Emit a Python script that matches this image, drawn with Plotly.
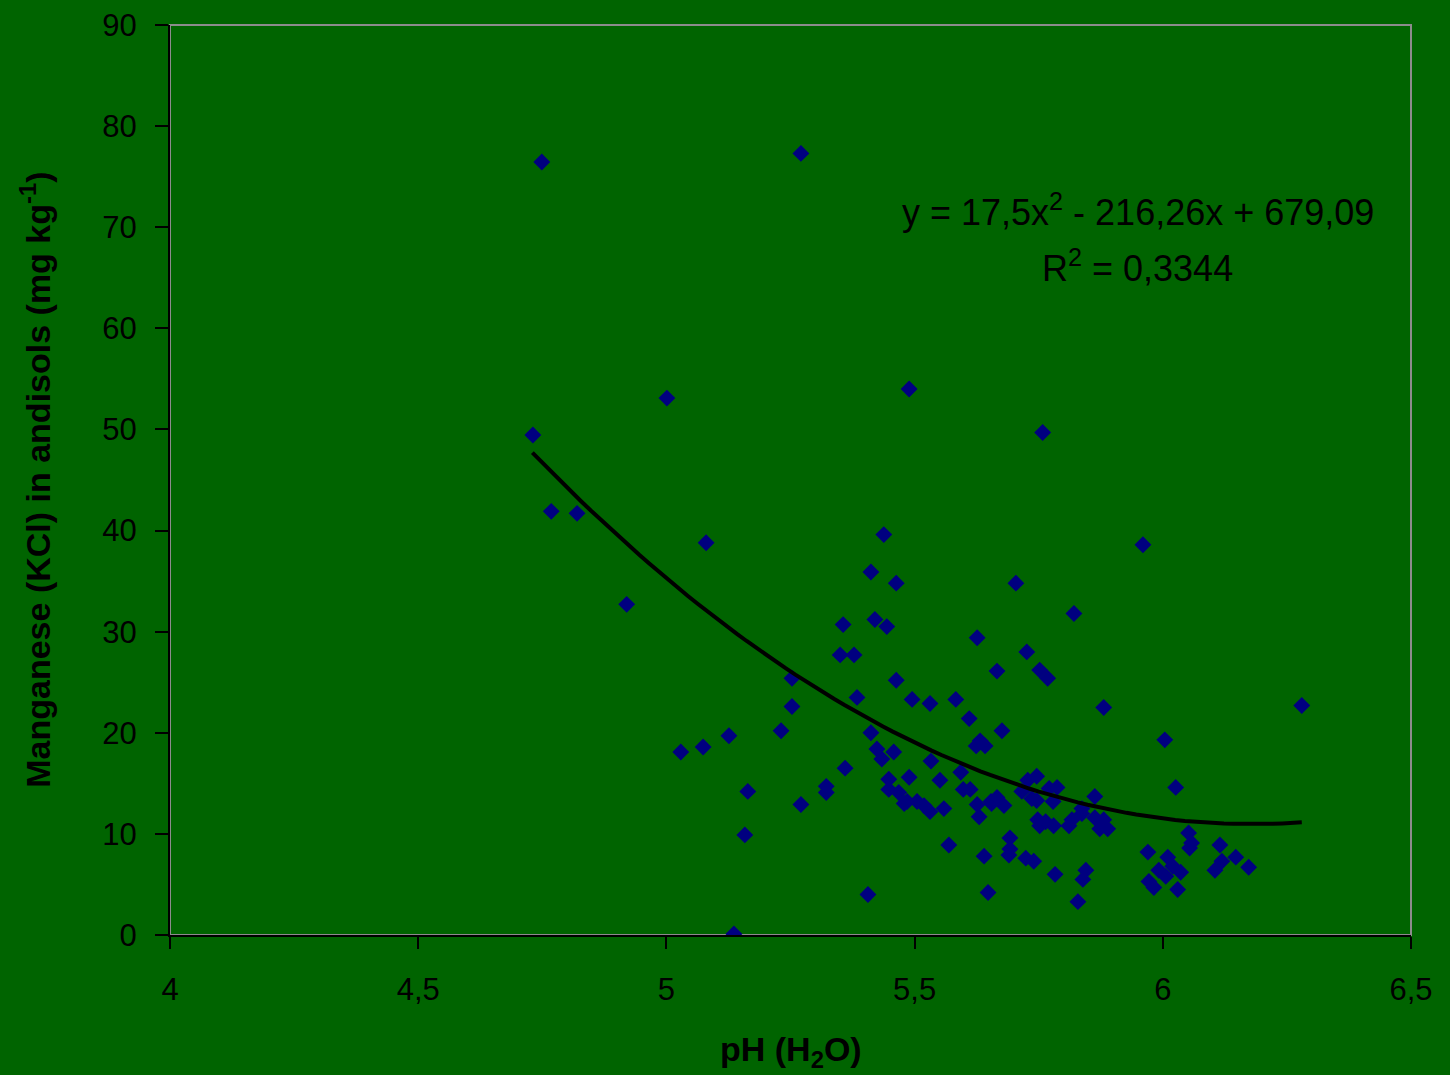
import numpy as np
import plotly.graph_objects as go

# pH (H2O) values and Mn (KCl) values
ph = [4.749, 4.731, 4.768, 4.820, 4.920, 5.001, 5.029, 5.074, 5.080, 5.126,
      5.136, 5.158, 5.164, 5.271, 5.253, 5.253, 5.231, 5.271, 5.322, 5.322,
      5.356, 5.350, 5.378, 5.360, 5.384, 5.412, 5.438, 5.420, 5.444, 5.463,
      5.489, 5.406, 5.412, 5.424, 5.434, 5.458, 5.463, 5.495, 5.531, 5.448,
      5.448, 5.468, 5.489, 5.485, 5.479, 5.505, 5.519, 5.531, 5.533, 5.551,
      5.559, 5.569, 5.583, 5.593, 5.598, 5.612, 5.610, 5.626, 5.624, 5.632,
      5.642, 5.626, 5.630, 5.640, 5.648, 5.654, 5.666, 5.666, 5.676, 5.680,
      5.704, 5.692, 5.692, 5.690, 5.726, 5.716, 5.728, 5.736, 5.746, 5.746,
      5.724, 5.740, 5.748, 5.752, 5.752, 5.768, 5.758, 5.764, 5.780, 5.771,
      5.779, 5.787, 5.783, 5.811, 5.817, 5.821, 5.829, 5.837, 5.845, 5.839,
      5.863, 5.863, 5.873, 5.881, 5.881, 5.889, 5.960, 5.970, 5.972, 5.982,
      5.992, 6.004, 6.010, 6.006, 6.020, 6.026, 6.030, 6.036, 6.052, 6.054,
      6.058, 6.105, 6.115, 6.119, 6.147, 6.173, 6.280, 5.837, 5.655]
mn = [76.45, 49.45, 41.9, 41.7, 32.7, 53.1, 18.1, 18.6, 38.8, 19.7,
      0.1, 9.9, 14.2, 77.3, 25.4, 22.6, 20.2, 12.9, 14.7, 14.1,
      30.7, 27.7, 27.7, 16.5, 23.5, 35.9, 39.6, 31.2, 30.5, 34.8,
      54.0, 4.0, 20.0, 18.4, 17.4, 18.1, 25.2, 23.3, 22.9, 15.4,
      14.4, 14.1, 15.6, 13.2, 13.0, 13.2, 12.8, 12.2, 17.2, 15.3,
      12.5, 8.9, 23.3, 16.1, 14.4, 14.4, 21.4, 29.4, 18.7, 19.2,
      18.7, 12.9, 11.7, 7.8, 4.2, 13.2, 13.6, 26.1, 20.2, 12.8,
      34.8, 9.6, 8.5, 7.9, 28.0, 14.2, 15.3, 13.5, 15.7, 13.3,
      7.6, 7.3, 11.4, 10.8, 26.2, 25.4, 49.7, 11.2, 10.8, 14.5,
      13.2, 14.6, 6.0, 10.8, 11.4, 31.8, 3.3, 12.5, 6.4, 5.5,
      13.7, 11.6, 10.5, 22.5, 11.4, 10.5, 38.6, 8.2, 5.3, 4.7,
      6.4, 19.3, 7.7, 5.8, 6.8, 14.6, 4.5, 6.2, 10.1, 8.6,
      9.1, 6.4, 8.9, 7.3, 7.7, 6.7, 22.7, 12.0, 13.0]

# Trend line coefficients (from the chart's equation)
coef_a, coef_b, coef_c = 17.5, -216.26, 679.09
trend_x_range = [4.73, 6.28]

x_ticks = [4, 4.5, 5, 5.5, 6, 6.5]
x_ticktext = ["4", "4,5", "5", "5,5", "6", "6,5"]
y_ticks = [0, 10, 20, 30, 40, 50, 60, 70, 80, 90]

tx = np.linspace(trend_x_range[0], trend_x_range[1], 80)
ty = coef_a * tx**2 + coef_b * tx + coef_c

BG = "#006400"
FONT = "Liberation Sans"

fig = go.Figure()
fig.add_trace(go.Scatter(x=ph, y=mn, mode="markers",
                         marker=dict(symbol="diamond", size=13, color="#000080",
                                     line=dict(width=0)),
                         showlegend=False))
fig.add_trace(go.Scatter(x=tx, y=ty, mode="lines",
                         line=dict(color="black", width=4),
                         showlegend=False))

fig.update_layout(
    width=1450, height=1075,
    margin=dict(l=170, r=39, t=25, b=140),
    paper_bgcolor=BG, plot_bgcolor=BG,
    font=dict(family=FONT, color="black", size=30),
    showlegend=False,
)
fig.update_xaxes(range=[4, 6.5], tickvals=x_ticks, ticktext=x_ticktext,
                 automargin=False,
                 showgrid=False, zeroline=False, showline=True,
                 linecolor="black", linewidth=2, ticks="outside",
                 ticklen=12, tickwidth=2, tickcolor="black",
                 ticklabelstandoff=14,
                 tickfont=dict(size=31, family=FONT, color="black"))
fig.update_yaxes(range=[0, 90], tickvals=y_ticks,
                 automargin=False,
                 showgrid=False, zeroline=False, showline=True,
                 linecolor="black", linewidth=2, ticks="outside",
                 ticklen=13, tickwidth=2, tickcolor="black",
                 ticklabelstandoff=12,
                 tickfont=dict(size=31, family=FONT, color="black"))

# gray plot-area frame (top/right)
fig.add_shape(type="rect", xref="paper", yref="paper", x0=0, x1=1, y0=0, y1=1,
              line=dict(color="#8c8c8c", width=2), layer="below")

fig.add_annotation(xref="paper", yref="paper", x=-0.109, y=0.5,
                   text="<b>Manganese (KCl) in andisols (mg kg<sup>-1</sup>)</b>",
                   textangle=-90, showarrow=False,
                   font=dict(size=34, family=FONT, color="black"),
                   xanchor="center", yanchor="middle")
fig.add_annotation(xref="paper", yref="paper", x=0.5, y=-0.128,
                   text="<b>pH (H<sub>2</sub>O)</b>", showarrow=False,
                   font=dict(size=34, family=FONT, color="black"),
                   xanchor="center", yanchor="middle")
fig.add_annotation(xref="paper", yref="paper", x=0.780, y=0.797,
                   text="y = 17,5x<sup>2</sup> - 216,26x + 679,09", showarrow=False,
                   font=dict(size=36, family=FONT, color="black"),
                   xanchor="center", yanchor="middle")
fig.add_annotation(xref="paper", yref="paper", x=0.780, y=0.735,
                   text="R<sup>2</sup> = 0,3344", showarrow=False,
                   font=dict(size=36, family=FONT, color="black"),
                   xanchor="center", yanchor="middle")

fig.write_html("out.html")
